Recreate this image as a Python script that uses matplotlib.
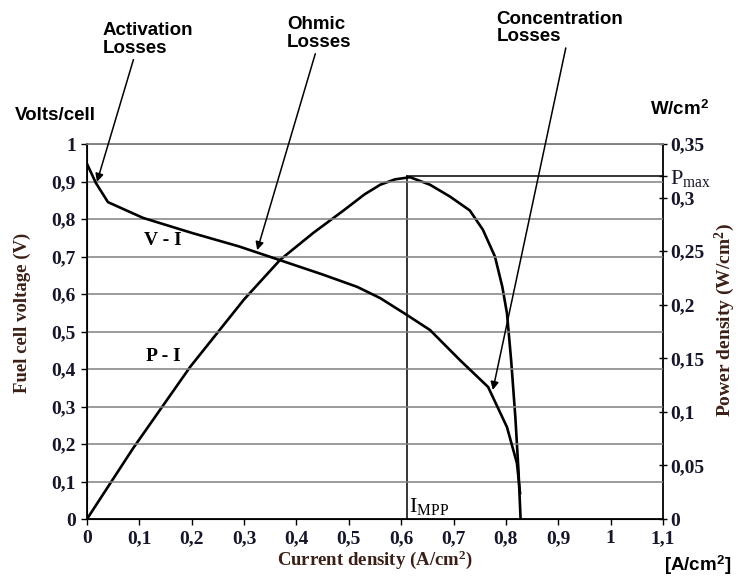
import matplotlib
matplotlib.use('Agg')
import matplotlib.pyplot as plt
import numpy as np

plt.rcParams['mathtext.fontset'] = 'custom'
plt.rcParams['mathtext.rm'] = 'Liberation Serif'
plt.rcParams['mathtext.it'] = 'Liberation Serif'
plt.rcParams['mathtext.bf'] = 'Liberation Serif:bold'

# V-I curve (A/cm2, V)
vi_current = [0.0, 0.017, 0.04, 0.107, 0.2, 0.29, 0.369, 0.45, 0.516, 0.56,
              0.611, 0.655, 0.712, 0.766, 0.802, 0.821, 0.827]
vi_voltage = [0.947, 0.896, 0.845, 0.803, 0.763, 0.727, 0.69, 0.652, 0.619, 0.589,
              0.544, 0.504, 0.424, 0.352, 0.245, 0.149, 0.069]

# P-I curve (A/cm2, W/cm2)
pi_current = [0.0, 0.088, 0.197, 0.3, 0.369, 0.432, 0.49, 0.53, 0.56, 0.588, 0.617,
              0.655, 0.693, 0.731, 0.756, 0.779, 0.793, 0.802, 0.81, 0.818, 0.824, 0.828]
pi_power = [0.0, 0.066, 0.142, 0.205, 0.242, 0.267, 0.288, 0.303, 0.312, 0.317, 0.319,
            0.312, 0.301, 0.288, 0.270, 0.245, 0.217, 0.192, 0.148, 0.095, 0.045, 0.0]

i_mpp = 0.611
p_max = 0.32

x_ticks = [0, 0.1, 0.2, 0.3, 0.4, 0.5, 0.6, 0.7, 0.8, 0.9, 1.0, 1.1]
v_ticks = [0, 0.1, 0.2, 0.3, 0.4, 0.5, 0.6, 0.7, 0.8, 0.9, 1.0]
p_ticks = [0, 0.05, 0.1, 0.15, 0.2, 0.25, 0.3, 0.35]

def comma(v):
    return ('%g' % v).replace('.', ',')

serif = 'Liberation Serif'
sans = 'Liberation Sans'
lab_color = '#3a2016'
tick_color = '#16162a'

fig = plt.figure(figsize=(7.38, 5.84), dpi=100)
ax = fig.add_axes([0.1179, 0.1113, 0.7805, 0.6421])
ax2 = ax.twinx()

ax.set_xlim(0, 1.1)
ax.set_ylim(0, 1.0)
ax2.set_ylim(0, 0.35)

for v in v_ticks[1:]:
    ax.axhline(v, color='#808080', lw=1.1, zorder=1)

ax.plot(vi_current, vi_voltage, color='black', lw=1.9, zorder=3)
ax2.plot(pi_current, pi_power, color='black', lw=1.9, zorder=3)

# maximum power point lines
ax2.plot([i_mpp, 1.1], [p_max, p_max], color='black', lw=1.1)
ax2.plot([i_mpp, i_mpp], [0, p_max], color='black', lw=1.1)

ax.set_xticks(x_ticks)
ax.set_xticklabels([comma(v) for v in x_ticks])
ax.set_yticks(v_ticks)
ax.set_yticklabels([comma(v) for v in v_ticks])
ax2.set_yticks(p_ticks + [p_max])
ax2.set_yticklabels([comma(v) for v in p_ticks] + [r'$\mathrm{P_{max}}$'])

for a in (ax, ax2):
    for lbl in a.get_xticklabels() + a.get_yticklabels():
        lbl.set_fontfamily(serif)
        lbl.set_fontweight('bold')
        lbl.set_fontsize(14)
        lbl.set_color(tick_color)
    a.tick_params(direction='out', length=4, width=1, color='black', pad=4)
    a.spines['top'].set_color('#808080')
    a.spines['top'].set_linewidth(1.1)
ax2.get_yticklabels()[-1].set_fontsize(16)
ax2.get_yticklabels()[-1].set_fontweight('normal')
ax2.tick_params(axis='y', direction='inout', length=6, pad=2)
ax.spines['right'].set_visible(False)
for s in ('left', 'bottom'):
    ax.spines[s].set_linewidth(1.3)
ax2.spines['right'].set_linewidth(1.3)

ax.set_xlabel(r'Current density (A/cm$^\mathregular{2}$)', fontfamily=serif,
              fontweight='bold', fontsize=13.5, color=lab_color, labelpad=1)
ax.set_ylabel('Fuel cell voltage (V)', fontfamily=serif, fontweight='bold',
              fontsize=13.5, color=lab_color, labelpad=5)
ax.yaxis.set_label_coords(-0.098, 0.55)
ax2.set_ylabel(r'Power density (W/cm$^\mathregular{2}$)', fontfamily=serif,
               fontweight='bold', fontsize=14, color=lab_color)
ax2.yaxis.set_label_coords(1.086, 0.53)

fig.text(0.020, 0.803, 'Volts/cell', fontfamily=sans, fontweight='bold', fontsize=13.5, va='center')
fig.text(0.881, 0.812, r'W/cm$^\mathregular{2}$', fontfamily=sans, fontweight='bold', fontsize=13.5, va='center')
fig.text(0.945, 0.012, r'[A/cm$^\mathregular{2}$]', fontfamily=sans, fontweight='bold', fontsize=13.5, ha='center', va='bottom')

ax.text(0.145, 0.743, 'V - I', fontfamily=serif, fontweight='bold', fontsize=14, ha='center', va='center')
ax.text(0.145, 0.434, 'P - I', fontfamily=serif, fontweight='bold', fontsize=14, ha='center', va='center')
ax.text(i_mpp + 0.004, 0.005, r'$\mathrm{I_{MPP}}$', fontfamily=serif, fontsize=16, ha='left', va='bottom')

arrow = dict(arrowstyle='-|>', color='black', lw=1.1, mutation_scale=12, shrinkA=0, shrinkB=0)
ax.annotate('Activation\nLosses', xy=(0.019, 0.899), xytext=(0.139, 0.962),
            xycoords='data', textcoords='figure fraction', ha='left', va='top',
            fontfamily=sans, fontweight='bold', fontsize=13.5, linespacing=1.05,
            arrowprops=dict(arrow, relpos=(0.35, 0.0)))
ax.annotate('Ohmic\nLosses', xy=(0.325, 0.717), xytext=(0.389, 0.972),
            xycoords='data', textcoords='figure fraction', ha='left', va='top',
            fontfamily=sans, fontweight='bold', fontsize=13.5, linespacing=1.05,
            arrowprops=dict(arrow, relpos=(0.45, 0.0)))
ax.annotate('Concentration\nLosses', xy=(0.775, 0.344), xytext=(0.673, 0.982),
            xycoords='data', textcoords='figure fraction', ha='left', va='top',
            fontfamily=sans, fontweight='bold', fontsize=13.5, linespacing=1.05,
            arrowprops=dict(arrow, relpos=(0.55, 0.0)))

ax.set_zorder(ax2.get_zorder() + 1)
ax.patch.set_visible(False)

plt.savefig('out.png', dpi=100)
